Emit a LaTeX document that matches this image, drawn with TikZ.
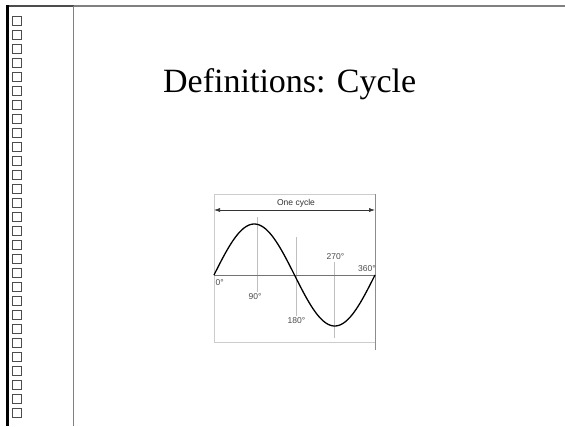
\documentclass[tikz,border=0pt]{standalone}
\usepackage{fontspec}
\setmainfont{Liberation Serif}
\newfontfamily\lsans{Liberation Sans}
\usetikzlibrary{arrows.meta}
\tikzset{
  sq/.style={draw=black!70, line width=0.8pt, minimum width=9.5pt, minimum height=9.5pt, inner sep=0pt},
  guide/.style={draw=black!25, line width=0.5pt},
  lbl/.style={font=\lsans\fontsize{8.5}{10}\selectfont, text=black!70, inner sep=0pt},
  frame/.style={draw=black!20, line width=0.6pt},
}
\begin{document}
\begin{tikzpicture}[x=1pt,y=-1pt]
\useasboundingbox (0,0) rectangle (565,426);
\fill[white] (0,0) rectangle (565,426);
% page frame
\draw[black!50, line width=2pt] (74,6) -- (565,6);
\draw[black!70, line width=2pt] (7,6) -- (74,6);
\draw[black!50, line width=1.5pt] (73.5,6) -- (73.5,426);
\draw[black, line width=2.5pt] (7.5,5) -- (7.5,426);
% squares
\foreach \i in {0,...,28} {
  \node[sq] (s\i) at (16.75,{20.75+14*\i}) {};
}
% title
\node[anchor=base west, inner sep=0pt, font=\fontsize{34}{40}\selectfont] (title) at (163,92) {Definitions: Cycle};
% graph frame
\coordinate (tl) at (214,194);
\coordinate (tr) at (375,194);
\coordinate (bl) at (214,342);
\coordinate (br) at (375,342);
\draw[frame] (bl) -- (tl) -- (tr);
\draw[frame] (bl) -- (br);
\draw[black!45, line width=0.6pt] (375,194) -- (375,350);
% guides
\draw[guide] (257,217) -- (257,292);
\draw[guide] (296,237) -- (296,316);
\draw[guide] (334,262) -- (334,338);
% axis
\coordinate (a0) at (214,275);
\coordinate (a1) at (375,275);
\draw[black!55, line width=0.7pt] (a0) -- (a1);
% one cycle arrow
\coordinate (arL) at (214,210);
\coordinate (arR) at (375,210);
\draw[black!80, line width=0.6pt, {Latex[length=6pt,width=4pt]}-{Latex[length=6pt,width=4pt]}] (arL) -- (arR);
\node[lbl, text=black!80] (oc) at (296,203.5) {One cycle};
% sine
\draw[black, line width=1.3pt, line join=round] plot[domain=0:360, samples=120] ({214+\x*0.44722}, {275-51*sin(\x)});
% labels
\node[lbl, anchor=west] (l0) at (215.5,282.5) {0°};
\node[lbl] (l90) at (255,297) {90°};
\node[lbl] (l180) at (296.5,321) {180°};
\node[lbl] (l270) at (335.5,257) {270°};
\node[lbl] (l360) at (367,268.5) {360°};
\end{tikzpicture}
\end{document}
